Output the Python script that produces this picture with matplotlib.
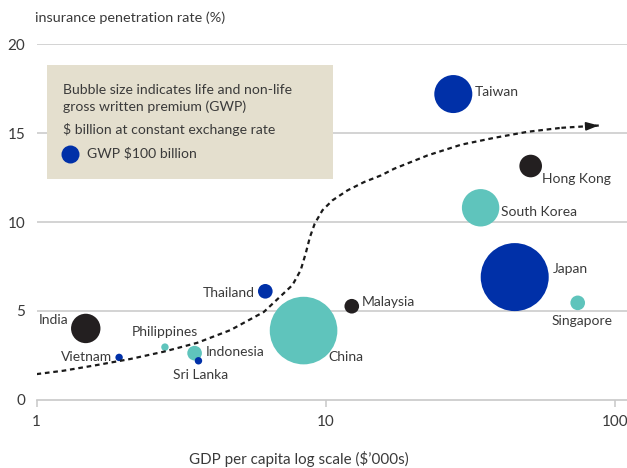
import matplotlib
matplotlib.use("Agg")
import matplotlib.pyplot as plt
from matplotlib.patches import Rectangle

plt.rcParams['font.family'] = ['Lato', 'DejaVu Sans']

# ---- data ----
countries = ["Taiwan", "Hong Kong", "South Korea", "Japan", "Singapore", "Malaysia",
             "China", "Thailand", "India", "Vietnam", "Philippines", "Indonesia", "Sri Lanka"]
gdp_per_capita = [27.6, 51.1, 34.3, 45.0, 74.3, 12.3, 8.38, 6.18, 1.48, 1.93, 2.78, 3.52, 3.63]
penetration = [17.2, 13.15, 10.8, 6.9, 5.45, 5.26, 3.89, 6.1, 4.01, 2.38, 2.96, 2.62, 2.19]
gwp_bn = [446, 158, 432, 1427, 66, 66, 1410, 66, 267, 17, 17, 66, 17]
group = ["blue", "black", "teal", "blue", "teal", "black",
         "teal", "blue", "black", "blue", "teal", "teal", "blue"]

trend_x = [1.00, 1.238, 1.617, 2.109, 2.751, 3.592, 4.686, 6.11, 6.80, 7.67, 8.19, 8.52,
           8.82, 9.16, 9.74, 10.55, 11.89, 13.58, 15.51, 17.25, 22.51, 29.37, 38.32,
           50.02, 65.25, 87.87]
trend_y = [1.44, 1.63, 1.95, 2.29, 2.70, 3.20, 3.92, 4.94, 5.65, 6.45, 7.29, 8.22,
           9.16, 9.91, 10.66, 11.22, 11.78, 12.25, 12.62, 13.0, 13.75, 14.35, 14.74,
           15.08, 15.30, 15.43]

legend_gwp = 100
x_ticks = [1, 10, 100]
x_ticklabels = ["1", "10", "100"]
y_ticks = [0, 5, 10, 15, 20]

# ---- style ----
palette = {"blue": "#0030a8", "teal": "#5fc4bc", "black": "#231f20"}
label_offsets = {  # pixel offsets (dx, dy), alignment
    "Taiwan": (21, 1.6, "left"), "Hong Kong": (11.4, -13.3, "left"),
    "South Korea": (20.7, -4.6, "left"), "Japan": (38.4, 7.7, "left"),
    "Singapore": (4.4, -18, "center"), "Malaysia": (9.7, 4.3, "left"),
    "China": (24.9, -26.2, "left"), "Thailand": (-10.4, -1.3, "right"),
    "India": (-17.7, 8.3, "right"), "Vietnam": (-7, 0.6, "right"),
    "Philippines": (0, 14.7, "center"), "Indonesia": (10.7, 0.7, "left"),
    "Sri Lanka": (1.8, -14, "center"),
}
text_col = "#3a3a3a"
grid_col = "#c8c8c8"
curve_col = "#1a1a1a"
DPI = 100
px2pt = 72 / DPI
size_k = 1.68  # points^2 per $bn

fig = plt.figure(figsize=(6.27, 4.68), dpi=DPI)
ax = fig.add_axes([36.5 / 627, 1 - 399.7 / 468, 1 - 36.5 / 627, (399.7 - 44.3) / 468])
ax.set_xscale("log")
ax.set_xlim(1, 110)
ax.set_ylim(0, 20)

for s in ["top", "right", "left"]:
    ax.spines[s].set_visible(False)
ax.spines["bottom"].set_color(grid_col)
ax.spines["bottom"].set_linewidth(1.2)
for yv in y_ticks[1:]:
    ax.axhline(yv, color=grid_col, lw=1.1, zorder=0)

ax.set_xticks(x_ticks)
ax.set_xticklabels(x_ticklabels)
ax.xaxis.set_minor_locator(matplotlib.ticker.NullLocator())
ax.set_yticks(y_ticks)
ax.tick_params(axis="x", colors=grid_col, labelcolor=text_col, length=5, width=1.1,
               labelsize=11, pad=6)
ax.tick_params(axis="y", length=0, labelcolor=text_col, labelsize=11, pad=8)

# legend box (overlay axes in pixel coordinates)
leg_ax = fig.add_axes([0, 0, 1, 1], facecolor="none", zorder=2)
leg_ax.set_xlim(0, 627)
leg_ax.set_ylim(468, 0)
leg_ax.axis("off")
box_x0, box_y0, box_x1, box_y1 = 46.7, 65, 333, 179.3
leg_ax.add_patch(Rectangle((box_x0, box_y0), box_x1 - box_x0, box_y1 - box_y0,
                           facecolor="#e4dfce", edgecolor="none", zorder=1))
fs = 10.1
leg_ax.text(62.7, 90, "Bubble size indicates life and non-life", fontsize=fs,
            color=text_col, va="center", ha="left", zorder=3)
leg_ax.text(62.7, 107, "gross written premium (GWP)", fontsize=fs,
            color=text_col, va="center", ha="left", zorder=3)
leg_ax.text(62.7, 130, "$ billion at constant exchange rate", fontsize=fs,
            color=text_col, va="center", ha="left", zorder=3)
leg_ax.text(87.3, 153.7, "GWP $100 billion", fontsize=fs,
            color=text_col, va="center", ha="left", zorder=3)
leg_ax.scatter([70.3], [153.7], s=size_k * legend_gwp, color=palette["blue"], lw=0, zorder=3)

# trend curve
dash = (0, (2.1, 1.7))
ax.plot(trend_x[:-1], trend_y[:-1], color=curve_col, lw=1.6, ls=dash, zorder=4,
        solid_capstyle="butt", dash_capstyle="butt")
tip_x, tip_y = trend_x[-1], trend_y[-1]
prev_x, prev_y = trend_x[-2], trend_y[-2]
ax.plot([prev_x, tip_x], [prev_y, tip_y], color=curve_col, lw=1.6, ls=dash, zorder=4)
frac = 0.7
start_x = prev_x * (tip_x / prev_x) ** frac
start_y = prev_y + (tip_y - prev_y) * frac
ax.annotate("", xy=(tip_x, tip_y), xytext=(start_x, start_y),
            arrowprops=dict(arrowstyle="-|>,head_length=0.75,head_width=0.25",
                            color=curve_col, lw=1.2, shrinkA=0, shrinkB=0), zorder=4)

# bubbles
ax.scatter(gdp_per_capita, penetration, s=[size_k * g for g in gwp_bn],
           c=[palette[g] for g in group], lw=0, zorder=3)

for c, x, y in zip(countries, gdp_per_capita, penetration):
    dx, dy, ha = label_offsets[c]
    ax.annotate(c, (x, y), xytext=(dx * px2pt, dy * px2pt), textcoords="offset points",
                ha=ha, va="center", fontsize=10, color=text_col, zorder=5)

fig.text(35 / 627, 1 - 18 / 468, "insurance penetration rate (%)", fontsize=10.4,
         color=text_col, va="center", ha="left")
fig.text(299 / 627, 1 - 459 / 468, "GDP per capita log scale ($\u2019000s)", fontsize=10.9,
         color=text_col, va="center", ha="center")

fig.savefig("out.png", dpi=DPI)
